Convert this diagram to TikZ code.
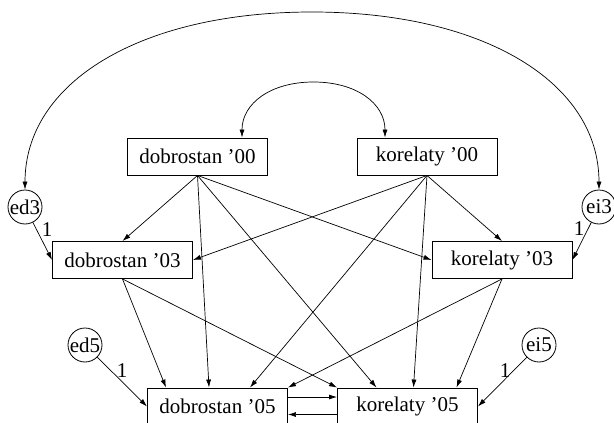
\documentclass[tikz,border=0pt]{standalone}
\usepackage{fontspec}
\setmainfont{Liberation Serif}
\usetikzlibrary{arrows.meta}
\begin{document}
\begin{tikzpicture}[x=1pt,y=-1pt,
  font=\fontsize{21}{25}\selectfont,
  var/.style={draw, line width=0.9pt, minimum width=140pt, minimum height=37pt, inner sep=0pt},
  err/.style={draw, circle, line width=0.8pt, minimum size=34pt, inner sep=0pt},
  arr/.style={line width=0.7pt, -{Latex[length=8pt,width=5pt]}},
  biarr/.style={line width=0.7pt, {Latex[length=8pt,width=5pt]}-{Latex[length=8pt,width=5pt]}},
  lbl/.style={inner sep=0pt}]
\useasboundingbox (0,0) rectangle (614,423);

% variables
\node[var] (d00) at (197.5,156.5) {dobrostan ’00};
\node[var] (k00) at (427,156.5) {korelaty ’00};
\node[var] (d03) at (122.5,260) {dobrostan ’03};
\node[var] (k03) at (502,260) {korelaty ’03};
\node[var] (d05) at (217.5,406.5) {dobrostan ’05};
\node[var] (k05) at (407.5,406.5) {korelaty ’05};

% errors
\node[err] (ed3) at (25,207) {ed3};
\node[err] (ei3) at (599,207) {ei3};
\node[err] (ed5) at (85,345) {ed5};
\node[err] (ei5) at (539,345) {ei5};

% labels
\node[lbl] (l1) at (47,230) {1};
\node[lbl] (l2) at (579,229) {1};
\node[lbl] (l3) at (122,371) {1};
\node[lbl] (l4) at (505,371) {1};

% covariances
\coordinate (bigtop) at (312,12);
\draw[biarr] (ed3.north) .. controls +(0,-107) and +(-172,0) .. (bigtop)
  .. controls +(172,0) and +(0,-107) .. (ei3.north);
\coordinate (smtop) at (313.5,82);
\draw[biarr] ([xshift=44.5pt]d00.north) .. controls +(0,-34) and +(-43,0) .. (smtop)
  .. controls +(43,0) and +(0,-34) .. ([xshift=-42pt]k00.north);

% error paths
\draw[arr] (ed3) -- (d03.west);
\draw[arr] (ei3) -- (k03.east);
\draw[arr] (ed5) -- (d05.west);
\draw[arr] (ei5) -- (k05.east);

% from '00
\draw[arr] (d00.south) -- (d03.north);
\draw[arr] (d00.south) -- (k03.west);
\draw[arr] (d00.south) -- ([xshift=-8.5pt]d05.north);
\draw[arr] (d00.south) -- ([xshift=-31pt]k05.north);
\draw[arr] (k00.south) -- (d03.east);
\draw[arr] (k00.south) -- (k03.north);
\draw[arr] (k00.south) -- ([xshift=32.5pt]d05.north);
\draw[arr] (k00.south) -- ([xshift=6pt]k05.north);

% from '03
\draw[arr] (d03.south) -- ([xshift=-51.5pt]d05.north);
\draw[arr] (d03.south) -- (k05.north west);
\draw[arr] (k03.south) -- (d05.north east);
\draw[arr] (k03.south) -- ([xshift=49pt]k05.north);

% reciprocal
\draw[arr] ([yshift=9.5pt]d05.east) -- ([yshift=9.5pt]k05.west);
\draw[arr] ([yshift=-8pt]k05.west) -- ([yshift=-8pt]d05.east);
\end{tikzpicture}
\end{document}
